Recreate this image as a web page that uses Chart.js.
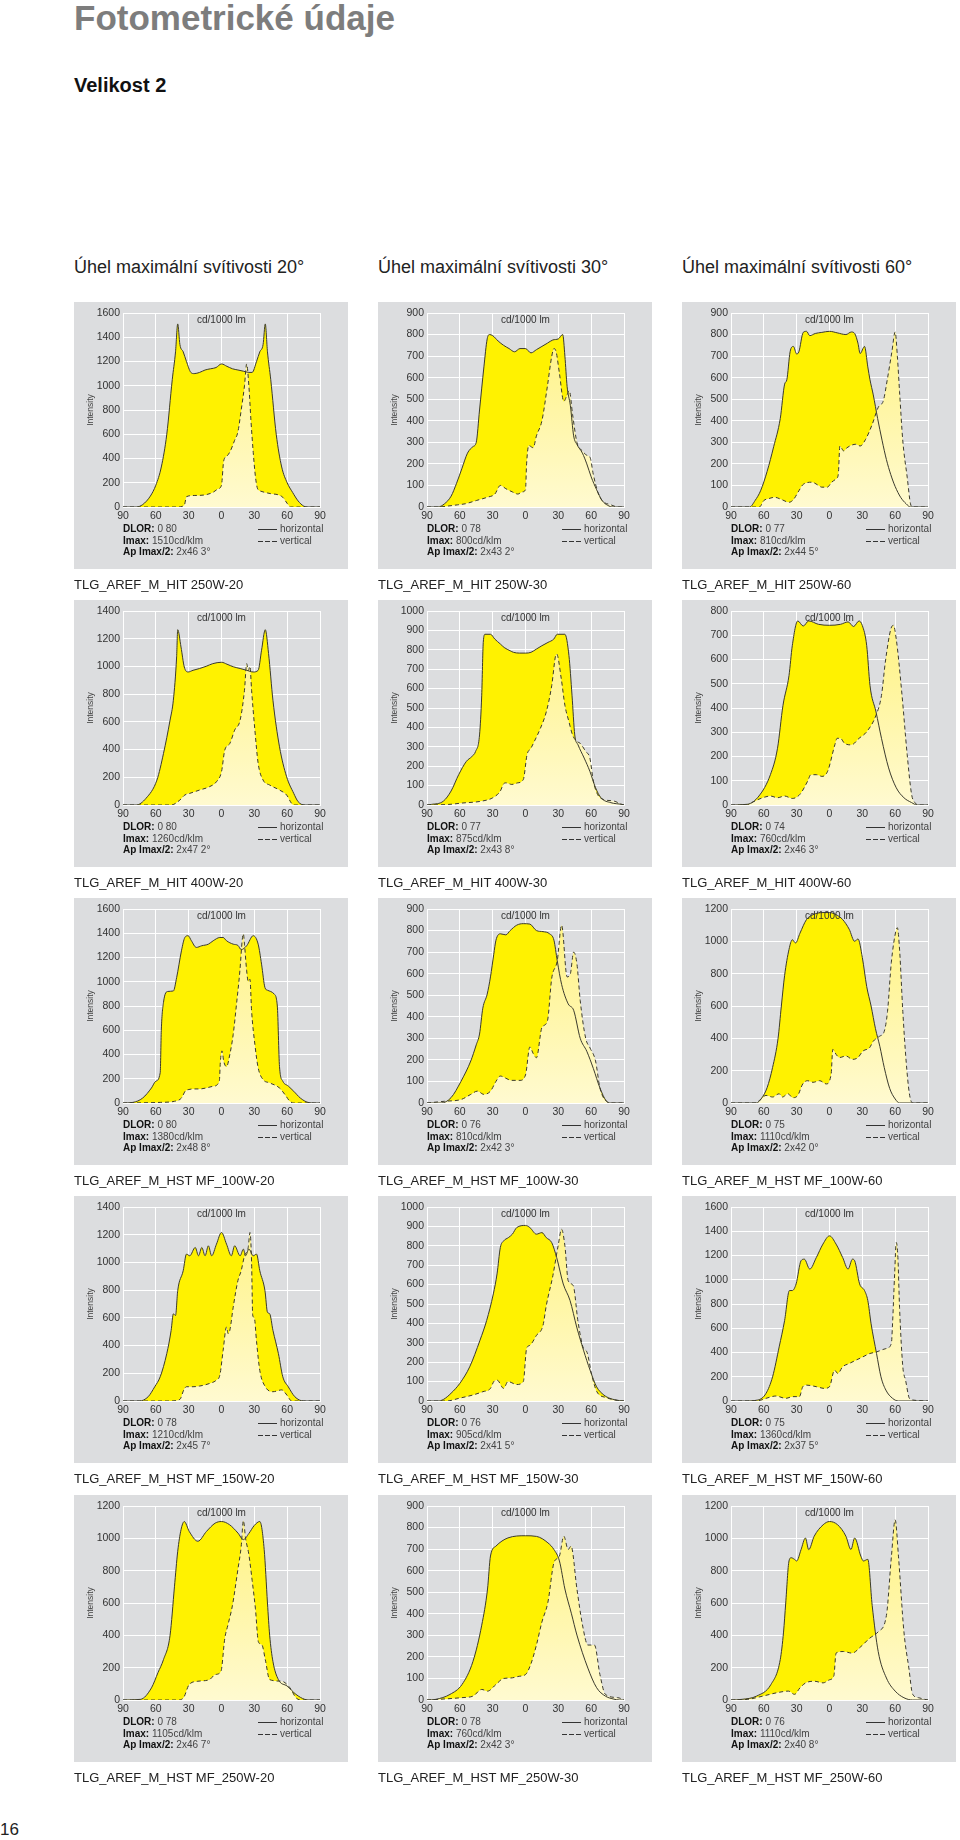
<!DOCTYPE html>
<html>
<head>
<meta charset="utf-8">
<script src="https://cdn.jsdelivr.net/npm/chart.js@4.4.1/dist/chart.umd.min.js"></script>
<style>
body{margin:0;width:960px;height:1840px;position:relative;background:#fff;font-family:"Liberation Sans",Arial,sans-serif;color:#222;overflow:hidden}
.abs{position:absolute;white-space:nowrap}
.panel{position:absolute;width:274px;height:267px;background:#dcdddf}
.panel canvas{position:absolute;left:0;top:0}
.unit{position:absolute;left:49px;width:197px;top:11px;text-align:center;font-size:10px;color:#333;line-height:14px}
.info{position:absolute;left:49px;top:221px;font-size:10px;line-height:11.5px;color:#444;white-space:nowrap}
.info b{color:#111}
.leg{position:absolute;left:184px;top:221px;font-size:10px;line-height:11.5px;color:#444;white-space:nowrap}
.leg i{display:inline-block;width:19px;height:1px;margin-right:3px;vertical-align:2px;background:#333}
.leg i.d{background:repeating-linear-gradient(90deg,#333 0 5px,transparent 5px 7px)}
.name{position:absolute;font-size:13px;line-height:15px;color:#222;white-space:nowrap}
</style>
</head>
<body>
<div class="abs" style="left:74px;top:-2px;font-size:35px;font-weight:bold;color:#7d7d7d">Fotometrické údaje</div>
<div class="abs" style="left:74px;top:74px;font-size:20px;font-weight:bold;color:#111">Velikost 2</div>
<div id="page"></div>
<div class="abs" style="left:0;top:1820px;font-size:17px;color:#222">16</div>
<script>
// hlavicky sloupcu
const headers = ['Úhel maximální svítivosti 20°', 'Úhel maximální svítivosti 30°', 'Úhel maximální svítivosti 60°'];

const names = [
  'TLG_AREF_M_HIT 250W-20', 'TLG_AREF_M_HIT 250W-30', 'TLG_AREF_M_HIT 250W-60',
  'TLG_AREF_M_HIT 400W-20', 'TLG_AREF_M_HIT 400W-30', 'TLG_AREF_M_HIT 400W-60',
  'TLG_AREF_M_HST MF_100W-20', 'TLG_AREF_M_HST MF_100W-30', 'TLG_AREF_M_HST MF_100W-60',
  'TLG_AREF_M_HST MF_150W-20', 'TLG_AREF_M_HST MF_150W-30', 'TLG_AREF_M_HST MF_150W-60',
  'TLG_AREF_M_HST MF_250W-20', 'TLG_AREF_M_HST MF_250W-30', 'TLG_AREF_M_HST MF_250W-60'
];
const yMax = [1600, 900, 900, 1400, 1000, 800, 1600, 900, 1200, 1400, 1000, 1600, 1200, 900, 1200];
const yStep = [200, 100, 100, 200, 100, 100, 200, 100, 200, 200, 100, 200, 200, 100, 200];
const dlor = ['0 80', '0 78', '0 77', '0 80', '0 77', '0 74', '0 80', '0 76', '0 75', '0 78', '0 76', '0 75', '0 78', '0 78', '0 76'];
const imax = ['1510', '800', '810', '1260', '875', '760', '1380', '810', '1110', '1210', '905', '1360', '1105', '760', '1110'];
const apHalf = ['2x46 3°', '2x43 2°', '2x44 5°', '2x47 2°', '2x43 8°', '2x46 3°', '2x48 8°', '2x42 3°', '2x42 0°', '2x45 7°', '2x41 5°', '2x37 5°', '2x46 7°', '2x42 3°', '2x40 8°'];

// [uhel, cd/1000 lm] - horizontal (h) a vertical (v)
const h1 = [[-90,0],[-78,0],[-72,20],[-65,90],[-60,180],[-55,330],[-50,600],[-45,1050],[-42,1280],[-40,1510],[-38,1340],[-35,1280],[-32,1200],[-28,1110],[-25,1100],[-20,1110],[-15,1130],[-10,1140],[-5,1150],[0,1180],[5,1160],[10,1140],[15,1130],[20,1120],[25,1110],[28,1110],[32,1200],[35,1280],[38,1340],[40,1510],[42,1280],[45,1050],[50,600],[55,330],[60,200],[65,120],[70,50],[75,8],[78,0],[90,0]];
const v1 = [[-90,0],[-40,0],[-34,15],[-32,85],[-25,95],[-15,100],[-8,120],[-3,150],[0,180],[2,380],[5,420],[8,460],[12,550],[15,620],[18,800],[21,1000],[23,1180],[25,1000],[27,700],[29,450],[31,250],[33,150],[36,130],[45,110],[52,100],[56,80],[60,30],[63,0],[90,0]];

const h2 = [[-90,0],[-80,0],[-74,15],[-68,50],[-63,110],[-58,180],[-53,250],[-48,280],[-45,300],[-42,450],[-38,650],[-35,780],[-33,800],[-30,795],[-25,770],[-20,750],[-15,735],[-10,720],[-5,735],[0,735],[5,715],[10,730],[15,745],[20,760],[25,775],[30,780],[34,800],[36,700],[38,560],[41,470],[44,330],[47,290],[52,250],[56,200],[60,140],[65,80],[70,30],[75,8],[80,0],[90,0]];
const v2 = [[-90,0],[-80,0],[-70,5],[-62,10],[-55,15],[-45,30],[-35,45],[-28,60],[-23,100],[-18,85],[-12,70],[-7,60],[-3,70],[0,80],[1,200],[3,285],[7,275],[10,330],[15,400],[20,560],[24,700],[26,735],[28,720],[31,620],[35,490],[38,520],[40,540],[43,430],[47,300],[52,260],[56,240],[59,230],[62,150],[66,70],[70,30],[78,10],[85,0],[90,0]];

const h3 = [[-90,0],[-73,0],[-68,30],[-63,75],[-57,165],[-51,280],[-45,410],[-41,570],[-39,590],[-36,720],[-33,745],[-30,710],[-28,720],[-24,810],[-21,815],[-18,795],[-13,805],[-7,810],[0,815],[7,808],[15,800],[20,812],[23,805],[26,760],[28,712],[32,745],[35,650],[37,590],[40,520],[44,410],[48,310],[52,220],[56,150],[60,95],[65,45],[70,15],[74,0],[90,0]];
const v3 = [[-90,0],[-64,0],[-60,30],[-56,38],[-50,45],[-44,35],[-37,22],[-33,34],[-28,75],[-24,105],[-16,115],[-11,103],[-7,92],[-2,92],[2,115],[6,130],[8,150],[9.5,283],[13,260],[16,275],[24,291],[28,283],[33,314],[39,383],[45,467],[49,490],[53,597],[57,720],[60,812],[62,700],[64,536],[67,306],[71,138],[74,15],[76,0],[90,0]];

const h4 = [[-90,0],[-78,0],[-69,48],[-59,180],[-53,372],[-47,612],[-44,756],[-41,1069],[-40,1265],[-37,1140],[-34,996],[-30.5,960],[-26,972],[-20,985],[-14,1001],[-8,1020],[0,1030],[5,1016],[11,997],[17,985],[23,972],[29,960],[33.5,972],[36.6,1117],[40,1265],[43,1093],[47,756],[53,420],[59.5,204],[66,84],[70,24],[76,0],[90,0]];
const v4 = [[-90,0],[-46,0],[-38,36],[-33.5,72],[-29,84],[-20,108],[-11,132],[-4.6,168],[0,240],[3,396],[7.6,444],[12,540],[17,612],[21,828],[23,1020],[24.5,970],[26,1000],[27.5,828],[30.5,540],[33.5,300],[38,180],[44,144],[53,108],[59.5,72],[64,12],[66,0],[90,0]];

const h5 = [[-90,0],[-86,3],[-75,20],[-68,72],[-61,157],[-54,225],[-49,250],[-45.6,276],[-42,361],[-40,566],[-38.6,838],[-37,880],[-32,880],[-28,855],[-23,830],[-19.5,812],[-14,795],[-11,787],[-5.6,783],[0,783],[5,787],[10,804],[15,821],[20.5,838],[25.8,855],[29,880],[36,880],[39.7,770],[42.5,566],[45,361],[48,310],[53.6,242],[58.8,174],[64,89],[69,37],[78,12],[88,3],[90,0]];
const v5 = [[-90,0],[-70,3],[-58,10],[-40,20],[-30,37],[-23,72],[-20,109],[-17.8,114],[-12.5,106],[-7.3,114],[-2,131],[1.4,259],[5,293],[8,327],[13.6,395],[19,480],[24,617],[27.5,770],[28.5,778],[32.7,650],[36,514],[39.7,429],[43,361],[47,327],[50,318],[55,276],[58.8,242],[62,123],[65.8,55],[71,29],[81,20],[88,3],[90,0]];

const h6 = [[-90,0],[-75,3],[-64.5,37],[-54,125],[-47.5,234],[-42.5,411],[-37,534],[-34,657],[-29,759],[-24,738],[-19,759],[-10,745],[0,741],[10,745],[17,755],[22,736],[27,759],[30,740],[34,657],[37,493],[42.5,384],[47.5,275],[54,153],[61,71],[68,30],[75,10],[80,0],[90,0]];
const v6 = [[-90,0],[-75,0],[-71,10],[-61,30],[-54,37],[-47.5,30],[-41,37],[-34,27],[-27,44],[-20,98],[-17,125],[-12,125],[-6.8,118],[-1.7,139],[5,250],[7,275],[10,275],[13.6,255],[20,248],[27,275],[34,302],[42.5,370],[47.5,452],[51,589],[56,725],[58.4,741],[61,684],[66,466],[71,207],[75,44],[78,10],[82,0],[90,0]];

const h7 = [[-90,0],[-81,5],[-72,41],[-64,124],[-60,180],[-56,250],[-55,600],[-53,830],[-49,920],[-44,924],[-41,1034],[-36.6,1255],[-33.5,1365],[-30.5,1380],[-27.5,1338],[-23,1283],[-18,1297],[-12,1310],[-7.6,1338],[-1.5,1365],[1.5,1365],[4.6,1338],[10.7,1310],[15,1300],[18,1265],[23,1297],[29,1380],[33.5,1310],[36.6,1145],[39.7,952],[42,930],[48,900],[51,800],[53,300],[56,180],[61,140],[66,97],[72,41],[79,5],[85,0],[90,0]];
const v7 = [[-90,0],[-56,5],[-43,14],[-36.6,41],[-33,100],[-30.5,110],[-26,116],[-20,116],[-14,124],[-7.6,138],[-2,179],[-1,345],[0.5,430],[2,345],[4.6,300],[7.6,400],[10.7,566],[13.7,814],[16.8,1090],[19,1350],[20,1395],[21,1310],[23,1090],[24.5,1000],[26,1020],[27.5,759],[30.5,483],[33.5,290],[38,193],[44,166],[53,124],[58,69],[62.5,14],[66,0],[90,0]];

const h8 = [[-90,0],[-77,0],[-68,25],[-59,100],[-50,195],[-45,270],[-42,320],[-39,440],[-35,505],[-32,585],[-29,690],[-27,755],[-23,785],[-18,780],[-14,800],[-8,825],[-2,832],[4,830],[10,800],[16,795],[22,785],[26,755],[29,660],[33,550],[39,460],[44,430],[50,300],[56,240],[62,160],[68,70],[74,8],[78,0],[90,0]];
const v8 = [[-90,0],[-74,8],[-59,16],[-50,40],[-44,55],[-38,40],[-32,55],[-27,100],[-23,125],[-18,115],[-13,105],[-5,105],[0,130],[4,260],[7,230],[10,210],[15,350],[20,380],[24,580],[29,660],[33,825],[38,585],[41,600],[44,700],[47,645],[50,475],[55,300],[59,255],[64,195],[68,70],[74,8],[80,0],[90,0]];

const h9 = [[-90,0],[-67,0],[-62,30],[-57,95],[-52,220],[-47,400],[-44,600],[-41,790],[-37,950],[-34,1010],[-31,990],[-27,1050],[-21,1135],[-15,1165],[-6,1178],[0,1178],[6,1165],[12,1135],[18,1075],[23,1000],[26,1015],[30,900],[34,720],[38,600],[42,460],[46,350],[50,220],[55,90],[60,25],[64,0],[90,0]];
const v9 = [[-90,0],[-68,0],[-64,16],[-58,47],[-52,37],[-46,57],[-43,37],[-38,57],[-33.5,33],[-29,47],[-24.4,118],[-20,138],[-15,128],[-9,138],[-3,118],[1.5,179],[3,331],[6,301],[9,281],[15,291],[21,270],[26,281],[30.5,321],[36.6,342],[40,382],[45.8,413],[50,443],[53,565],[56.5,870],[61,1074],[62,1084],[64,952],[67,565],[70,260],[73,57],[76,0],[90,0]];

const h10 = [[-90,0],[-75,0],[-67,31],[-61,103],[-56,175],[-50,342],[-46,510],[-44,629],[-42,617],[-40,797],[-35,940],[-32,1060],[-29,1048],[-24,1108],[-21,1048],[-18,1108],[-15,1048],[-12,1120],[-9,1048],[-4.6,1132],[0,1216],[4.6,1132],[9,1048],[12,1120],[17,1048],[20,1096],[22,1048],[25,1096],[29,1048],[32,1060],[35,940],[39.7,797],[42,640],[44,630],[47,510],[52,342],[56,175],[61,103],[67,31],[75,0],[90,0]];
const v10 = [[-90,0],[-47,0],[-38,12],[-34.5,79],[-32,103],[-26,103],[-20,108],[-10.7,127],[-4.6,151],[-1.5,187],[1.5,366],[4.6,534],[6,486],[7.6,510],[10.7,677],[15,869],[18,940],[21,1048],[24.4,1108],[26,1216],[27.5,1000],[28.5,620],[30,600],[32,430],[35,220],[40,103],[47,67],[55,80],[60,40],[64,0],[90,0]];

const h11 = [[-90,0],[-80,0],[-75,8],[-68,40],[-60,91],[-51,176],[-41.6,313],[-35.5,415],[-29.4,552],[-26,655],[-23,791],[-20,825],[-15.7,842],[-12,860],[-8,894],[0,905],[4,894],[10,860],[15,868],[19,842],[24,816],[28.5,739],[34.5,603],[40.7,518],[46.8,381],[53,262],[59,159],[65,73],[71.6,31],[77,14],[86,2],[90,0]];
const v11 = [[-90,0],[-72,0],[-60,15],[-48,31],[-39,48],[-32,65],[-29,100],[-26,108],[-20,65],[-16,100],[-8,85],[-2,100],[1,270],[4,287],[10,338],[16,390],[19,492],[25,646],[29.8,800],[33,885],[36,800],[39,620],[43.6,595],[48,408],[53,271],[56,254],[60.5,135],[65,50],[74,17],[84,3],[90,0]];

const h12 = [[-90,0],[-78,0],[-65.6,8],[-58,63],[-52,200],[-46,446],[-41,665],[-36.6,911],[-34,911],[-30.5,966],[-26,1157],[-23,1170],[-18,1088],[-12,1184],[-6,1294],[0,1362],[6,1294],[12,1184],[17,1088],[21,1170],[23,1157],[27.5,966],[32,911],[35,829],[38,637],[43,391],[47,200],[51.5,90],[57.6,22],[63,0],[90,0]];
const v12 = [[-90,0],[-65,3],[-58,22],[-49,41],[-40,22],[-33.5,36],[-27.5,36],[-24.4,118],[-21,131],[-12,118],[-4.6,104],[0,118],[4.6,254],[7.6,227],[12,282],[18,309],[24,336],[30.5,364],[36.6,391],[43,405],[51.5,432],[56.5,473],[57.6,637],[59.5,1047],[61,1307],[62.5,1184],[64,773],[67,282],[69.5,172],[73,22],[76,8],[82,3],[90,0]];

const h13 = [[-90,0],[-74,4],[-64,75],[-58,170],[-53,250],[-47,400],[-43,700],[-40,920],[-37,1053],[-34,1104],[-29.5,1043],[-21.6,982],[-13.7,1043],[-5.8,1094],[0,1104],[7.4,1084],[15,1033],[20,992],[25,1030],[30,1080],[35,1104],[39,931],[42,600],[44,401],[47,238],[52,126],[60,86],[68,35],[76,4],[80,0],[90,0]];
const v13 = [[-90,0],[-40,0],[-34.7,14],[-29.5,96],[-21.6,116],[-11,126],[-5.8,157],[-0.5,177],[3,381],[5.8,462],[10,585],[15,809],[18,950],[20,1110],[22,1000],[25,900],[28,740],[31,564],[33.7,360],[37,340],[40,250],[44,126],[55,116],[62.6,75],[68,14],[73,0],[90,0]];

const h14 = [[-90,0],[-82,3],[-69,26],[-58,72],[-48,179],[-40,347],[-34.7,515],[-32,668],[-27,714],[-16,752],[0,762],[10,759],[20.5,729],[26,698],[31,645],[36,515],[42,400],[47,301],[57,148],[65,57],[73,18],[80,5],[86,0],[90,0]];
const v14 = [[-90,0],[-79.5,3],[-58,11],[-48,18],[-40,49],[-34.7,41],[-27,72],[-20,100],[-13.7,102],[-5.8,110],[0,118],[4.7,164],[10,255],[15,362],[20.5,454],[26,637],[31,668],[35,760],[39,698],[41.6,714],[47,515],[52,350],[57,255],[63,255],[68,118],[73,26],[84,11],[89,3],[90,0]];

const h15 = [[-90,0],[-80,4],[-66.7,24],[-53.5,96],[-45,250],[-42,420],[-40,600],[-37,860],[-35,880],[-32,870],[-30,860],[-26,930],[-22,1002],[-19,930],[-14,1013],[-5.8,1084],[0,1104],[7.4,1084],[15,1013],[19.6,931],[23,1002],[28.6,890],[31,860],[35,870],[39,585],[44.5,300],[52,136],[60,55],[68,14],[76,0],[90,0]];
const v15 = [[-90,0],[-74.6,4],[-61,24],[-48,45],[-37.6,55],[-32,35],[-27,75],[-21.7,106],[-13.8,116],[-5.8,106],[0,125],[4,150],[6,290],[12.7,300],[20.6,290],[28.6,330],[36.5,381],[44.5,422],[52,523],[56.6,890],[60,1115],[63,890],[68,422],[72.5,198],[76,35],[81.5,14],[87,4],[90,0]];

const horiz = [h1, h2, h3, h4, h5, h6, h7, h8, h9, h10, h11, h12, h13, h14, h15];
const vert = [v1, v2, v3, v4, v5, v6, v7, v8, v9, v10, v11, v12, v13, v14, v15];

const colX = [74, 378, 682];
const rowY = [302, 600, 898, 1196, 1495];

Chart.defaults.font.family = '"Liberation Sans", Arial, sans-serif';

var page = document.getElementById('page');

// nadpisy sloupcu
headers.forEach(function (t, c) {
  var d = document.createElement('div');
  d.className = 'abs';
  d.style.cssText = 'left:' + colX[c] + 'px;top:257px;font-size:18px;color:#222';
  d.textContent = t;
  page.appendChild(d);
});

function lightFill(ctx) {
  var area = ctx.chart.chartArea;
  if (!area) return '#fff59a';
  var g = ctx.chart.ctx.createLinearGradient(0, area.top, 0, area.bottom);
  g.addColorStop(0, '#fff27c');
  g.addColorStop(1, '#fffad0');
  return g;
}

for (let i = 0; i < 15; i++) {
  let c = i % 3, r = Math.floor(i / 3);
  let p = document.createElement('div');
  p.className = 'panel';
  p.style.left = colX[c] + 'px';
  p.style.top = rowY[r] + 'px';
  p.innerHTML =
    '<canvas width="274" height="222"></canvas>' +
    '<div class="unit">cd/1000 lm</div>' +
    '<div class="info"><b>DLOR:</b> ' + dlor[i] + '<br><b>Imax:</b> ' + imax[i] + 'cd/klm<br><b>Ap Imax/2:</b> ' + apHalf[i] + '</div>' +
    '<div class="leg"><i></i>horizontal<br><i class="d"></i>vertical</div>';
  page.appendChild(p);

  let n = document.createElement('div');
  n.className = 'name';
  n.style.left = colX[c] + 'px';
  n.style.top = (rowY[r] + 275) + 'px';
  n.textContent = names[i];
  page.appendChild(n);

  new Chart(p.querySelector('canvas'), {
    type: 'line',
    data: {
      datasets: [{
        label: 'vertical',
        data: vert[i],
        borderColor: '#3b3a2c',
        borderWidth: 1,
        borderDash: [4, 3],
        pointRadius: 0,
        fill: 'origin',
        backgroundColor: lightFill,
        cubicInterpolationMode: 'monotone'
      }, {
        label: 'horizontal',
        data: horiz[i],
        borderColor: '#3b3a2c',
        borderWidth: 1,
        pointRadius: 0,
        fill: 'origin',
        backgroundColor: '#fff200',
        cubicInterpolationMode: 'monotone'
      }]
    },
    options: {
      responsive: false,
      animation: false,
      events: [],
      layout: { padding: { top: 11, right: 28, left: 8, bottom: 0 } },
      plugins: {
        legend: { display: false },
        tooltip: { enabled: false },
        filler: { drawTime: 'beforeDatasetsDraw' }
      },
      scales: {
        x: {
          type: 'linear', min: -90, max: 90,
          ticks: { stepSize: 30, callback: v => String(Math.abs(v)), font: { size: 10.5 }, color: '#333', padding: 3, maxRotation: 0 },
          grid: { color: '#fff', lineWidth: 1, drawTicks: false },
          border: { color: '#fff' },
          afterFit: s => { s.height = 17; }
        },
        y: {
          min: 0, max: yMax[i],
          ticks: { stepSize: yStep[i], callback: v => String(v), font: { size: 10.5 }, color: '#333', padding: 3 },
          grid: { color: '#fff', lineWidth: 1, drawTicks: false },
          border: { color: '#fff' },
          title: { display: true, text: 'Intensity', font: { size: 8.5 }, color: '#444', padding: { top: 4, bottom: 0 } },
          afterFit: s => { s.width = 41; }
        }
      }
    }
  });
}
</script>
</body>
</html>
